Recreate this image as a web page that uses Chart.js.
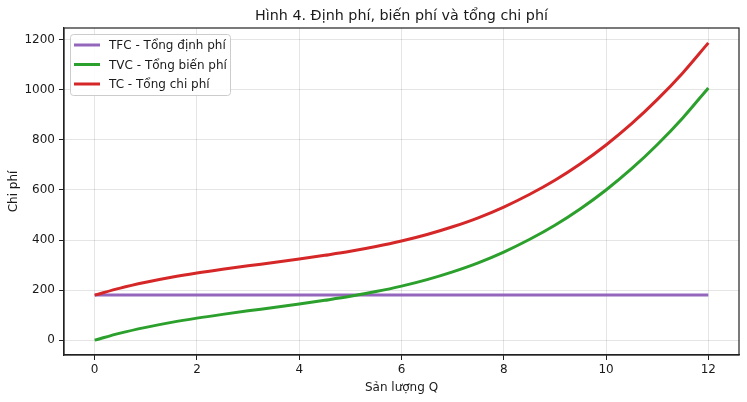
<!DOCTYPE html>
<html>
<head>
<meta charset="utf-8">
<script src="https://cdn.jsdelivr.net/npm/chart.js@4/dist/chart.umd.min.js"></script>
<style>
  html, body { margin: 0; padding: 0; background: #fff; }
  #wrap { width: 747px; height: 402px; position: relative; }
</style>
</head>
<body>
<div id="wrap"><canvas id="costChart"></canvas></div>
<script>
// Sản lượng Q
const quantities = [0, 0.5, 1, 1.5, 2, 2.5, 3, 3.5, 4, 4.5, 5, 5.5, 6, 6.5, 7, 7.5, 8, 8.5, 9, 9.5, 10, 10.5, 11, 11.5, 12];
// values
const tfcValues = [180, 180, 180, 180, 180, 180, 180, 180, 180, 180, 180, 180, 180, 180, 180, 180, 180, 180, 180, 180, 180, 180, 180, 180, 180];
const tvcValues = [0, 28, 51, 71, 88, 103, 117, 130, 144, 159, 175, 194, 216, 242, 273, 309, 352, 402, 459, 525, 600, 685, 781, 888, 1008];
const tcValues = [180, 208, 231, 251, 268, 283, 297, 310, 324, 339, 355, 374, 396, 422, 453, 489, 532, 582, 639, 705, 780, 865, 961, 1068, 1188];
const xTicks = [0, 2, 4, 6, 8, 10, 12];
const yTicks = [0, 200, 400, 600, 800, 1000, 1200];

const FONT = "'DejaVu Sans', sans-serif";
const TEXT = "#1a1a1a";

function toPoints(values) {
  return quantities.map((q, i) => ({ x: q, y: values[i] }));
}

// legend drawn inside the plot area, matplotlib style
const boxedLegend = {
  id: "boxedLegend",
  afterDatasetsDraw(chart) {
    const ctx = chart.ctx;
    const area = chart.chartArea;
    const x0 = area.left + 6, y0 = area.top + 6;
    const w = 160, h = 61;
    ctx.save();
    ctx.fillStyle = "rgba(255,255,255,0.85)";
    ctx.strokeStyle = "#cccccc";
    ctx.lineWidth = 1;
    ctx.beginPath();
    ctx.roundRect(x0 + 0.5, y0 + 0.5, w, h, 3);
    ctx.fill();
    ctx.stroke();
    ctx.font = "12px " + FONT;
    ctx.textBaseline = "middle";
    chart.data.datasets.forEach((ds, i) => {
      const cy = y0 + 11 + i * 19.5;
      ctx.strokeStyle = ds.borderColor;
      ctx.lineWidth = 3;
      ctx.beginPath();
      ctx.moveTo(x0 + 4, cy);
      ctx.lineTo(x0 + 30, cy);
      ctx.stroke();
      ctx.fillStyle = TEXT;
      ctx.fillText(ds.label, x0 + 39, cy + 1);
    });
    ctx.restore();
  },
};

// title + full frame round the axes
const frameAndTitle = {
  id: "frameAndTitle",
  afterDraw(chart) {
    const ctx = chart.ctx;
    const area = chart.chartArea;
    ctx.save();
    ctx.strokeStyle = "#222";
    ctx.lineWidth = 1.2;
    ctx.strokeRect(area.left, area.top, area.right - area.left, area.bottom - area.top);
    ctx.font = "14.3px " + FONT;
    ctx.fillStyle = TEXT;
    ctx.textAlign = "center";
    ctx.textBaseline = "middle";
    ctx.fillText("Hình 4. Định phí, biến phí và tổng chi phí", (area.left + area.right) / 2, 16);
    ctx.restore();
  },
};

const gridStyle = {
  color: "rgba(0,0,0,0.1)",
  tickColor: "#222",
  tickLength: 5,
  drawTicks: true,
};

new Chart(document.getElementById("costChart"), {
  type: "line",
  data: {
    datasets: [
      { label: "TFC - Tổng định phí", data: toPoints(tfcValues), borderColor: "#9467bd", order: 3 },
      { label: "TVC - Tổng biến phí", data: toPoints(tvcValues), borderColor: "#2ca02c", order: 2 },
      { label: "TC - Tổng chi phí", data: toPoints(tcValues), borderColor: "#d62728", order: 1 },
    ].map((ds) => Object.assign(ds, {
      borderWidth: 3,
      pointRadius: 0,
      fill: false,
      cubicInterpolationMode: "monotone",
    })),
  },
  options: {
    responsive: true,
    maintainAspectRatio: false,
    animation: false,
    layout: { padding: { top: 28, right: 8, left: 0, bottom: 0 } },
    plugins: {
      legend: { display: false },
      tooltip: { enabled: false },
    },
    scales: {
      x: {
        type: "linear",
        min: -0.6,
        max: 12.6,
        afterBuildTicks: (scale) => { scale.ticks = xTicks.map((v) => ({ value: v })); },
        afterFit: (scale) => { scale.height = 47; },
        grid: gridStyle,
        border: { color: "#222", width: 1.2 },
        ticks: { color: TEXT, font: { family: FONT, size: 12 }, padding: 3, maxRotation: 0, callback: (v) => String(v) },
        title: { display: true, text: "Sản lượng Q", color: TEXT, font: { family: FONT, size: 12 }, padding: { top: 2, bottom: 7 } },
      },
      y: {
        type: "linear",
        min: -59.4,
        max: 1247.4,
        afterBuildTicks: (scale) => { scale.ticks = yTicks.map((v) => ({ value: v })); },
        afterFit: (scale) => { scale.width = 64; },
        grid: gridStyle,
        border: { color: "#222", width: 1.2 },
        ticks: { color: TEXT, font: { family: FONT, size: 12 }, padding: 4, callback: (v) => String(v) },
        title: { display: true, text: "Chi phí", color: TEXT, font: { family: FONT, size: 12 }, padding: { top: 7, bottom: 0 } },
      },
    },
  },
  plugins: [boxedLegend, frameAndTitle],
});
</script>
</body>
</html>
